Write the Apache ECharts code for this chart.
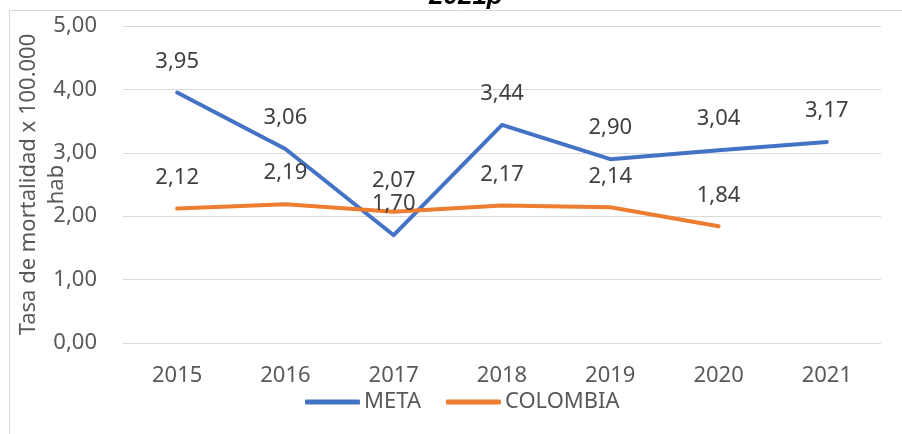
<!DOCTYPE html>
<html>
<head>
<meta charset="utf-8">
<script src="https://cdn.jsdelivr.net/npm/echarts@6/dist/echarts.min.js"></script>
<style>html,body{margin:0;padding:0;background:#fff}#c{width:902px;height:434px}</style>
</head>
<body>
<div id="c"></div>
<script>
const categories = ['2015','2016','2017','2018','2019','2020','2021'];
const metaValues = [3.95, 3.06, 1.70, 3.44, 2.90, 3.04, 3.17];
const colombiaValues = [2.12, 2.19, 2.07, 2.17, 2.14, 1.84, null];
const seriesNames = ['META', 'COLOMBIA'];
const titleText = '2021p';
const yAxisName = 'Tasa de mortalidad x 100.000\nhab';

const FONT = 'Noto Sans';
const TXT = '#595959';
const FS = 22;
const fmt = v => v.toFixed(2).replace('.', ',');

const chart = echarts.init(document.getElementById('c'));
chart.setOption({
  animation: false,
  backgroundColor: '#fff',
  textStyle: { fontFamily: FONT },
  title: {
    text: titleText, left: 424, top: -21,
    textStyle: { fontFamily: 'Liberation Sans', fontSize: 26, fontWeight: 'bold', fontStyle: 'italic', color: '#000' }
  },
  graphic: [{
    type: 'rect', silent: true, z: -1,
    shape: { x: 9.5, y: 10.5, width: 1000, height: 600 },
    style: { fill: 'none', stroke: '#d9d9d9', lineWidth: 1 }
  }],
  grid: { left: 123, right: 21, top: 26, bottom: 91, containLabel: false, outerBoundsMode: 'none' },
  legend: {
    data: seriesNames, left: 300, top: 386,
    itemWidth: 55, itemHeight: 5, itemGap: 25,
    icon: 'roundRect',
    textStyle: { fontFamily: FONT, fontSize: FS, color: TXT, padding: [0, 0, 0, -1] }
  },
  xAxis: {
    type: 'category', data: categories, boundaryGap: true,
    axisLine: { show: false }, axisTick: { show: false },
    axisLabel: { color: TXT, fontSize: FS, fontFamily: FONT, margin: 22 }
  },
  yAxis: {
    type: 'value', min: 0, max: 5, interval: 1,
    name: yAxisName, nameLocation: 'middle', nameGap: 52, nameMoveOverlap: false,
    nameTextStyle: { color: TXT, fontSize: FS, fontFamily: FONT, lineHeight: 28 },
    axisLine: { show: false }, axisTick: { show: false },
    axisLabel: { color: TXT, fontSize: FS, fontFamily: FONT, margin: 26, formatter: v => fmt(v) },
    splitLine: { lineStyle: { color: '#d9d9d9', width: 1 } }
  },
  series: [
    {
      name: seriesNames[0], type: 'line', data: metaValues,
      symbol: 'circle', symbolSize: 0.1, showSymbol: true, color: '#4472C4',
      lineStyle: { width: 4, color: '#4472C4', cap: 'round', join: 'round' },
      label: { show: true, position: 'top', distance: 20, color: '#404040', fontSize: FS, fontFamily: FONT, formatter: p => fmt(p.value) }
    },
    {
      name: seriesNames[1], type: 'line', data: colombiaValues,
      symbol: 'circle', symbolSize: 0.1, showSymbol: true, color: '#ED7D31',
      lineStyle: { width: 4, color: '#ED7D31', cap: 'round', join: 'round' },
      label: { show: true, position: 'top', distance: 20, color: '#404040', fontSize: FS, fontFamily: FONT, formatter: p => fmt(p.value) }
    }
  ]
});
</script>
</body>
</html>
